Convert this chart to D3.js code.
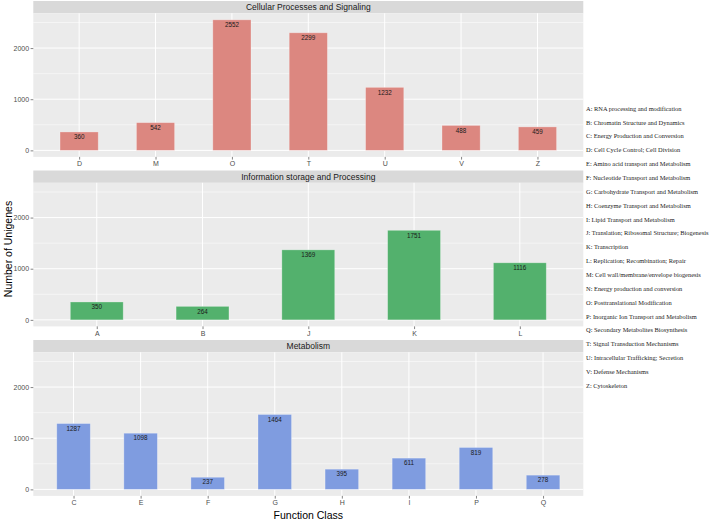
<!DOCTYPE html>
<html>
<head>
<meta charset="utf-8">
<script src="https://cdn.jsdelivr.net/npm/d3@7"></script>
<style>
  html, body { margin: 0; padding: 0; background: #fff; }
  svg { display: block; }
</style>
</head>
<body>
<script>
// ---------- data ----------
const panelTitles = ["Cellular Processes and Signaling", "Information storage and Processing", "Metabolism"];
const cellularCats = ["D", "M", "O", "T", "U", "V", "Z"];
const cellularValues = [360, 542, 2552, 2299, 1232, 488, 459];
const infoCats = ["A", "B", "J", "K", "L"];
const infoValues = [350, 264, 1369, 1751, 1116];
const metabCats = ["C", "E", "F", "G", "H", "I", "P", "Q"];
const metabValues = [1287, 1098, 237, 1464, 395, 611, 819, 278];
const yTicks = [0, 1000, 2000];
const yMinorTicks = [500, 1500, 2500];
const legendLabels = [
  "A: RNA processing and modification",
  "B: Chromatin Structure and Dynamics",
  "C: Energy Production and Conversion",
  "D: Cell Cycle Control; Cell Division",
  "E: Amino acid transport and Metabolism",
  "F: Nucleotide Transport and Metabolism",
  "G: Carbohydrate Transport and Metabolism",
  "H: Coenzyme Transport and Metabolism",
  "I: Lipid Transport and Metabolism",
  "J: Translation; Ribosomal Structure; Biogenesis",
  "K: Transcription",
  "L: Replication; Recombination; Repair",
  "M: Cell wall/membrane/envelope biogenesis",
  "N: Energy production and conversion",
  "O: Posttranslational Modification",
  "P: Inorganic Ion Transport and Metabolism",
  "Q: Secondary Metabolites Biosynthesis",
  "T: Signal Transduction Mechanisms",
  "U: Intracellular Trafficking; Secretion",
  "V: Defense Mechanisms",
  "Z: Cytoskeleton"
];
const panelColors = ["#DC8780", "#53B16D", "#7F9CE0"];

const panels = [
  { title: panelTitles[0], cats: cellularCats, values: cellularValues, color: panelColors[0] },
  { title: panelTitles[1], cats: infoCats, values: infoValues, color: panelColors[1] },
  { title: panelTitles[2], cats: metabCats, values: metabValues, color: panelColors[2] }
];

// ---------- layout ----------
const W = 709, H = 520;
const left = 33.3, right = 583.3;
const stripH = 12.3, plotH = 143.6;
const panelStep = 169.5, firstTop = 1;
const sans = "'Liberation Sans', Arial, Helvetica, sans-serif";
const serif = "'Liberation Serif', 'Times New Roman', serif";

const svg = d3.select("body").append("svg")
  .attr("width", W).attr("height", H)
  .style("font-family", sans);

const maxV = d3.max(panels.flatMap(p => p.values));
const pad = maxV * 0.05;

panels.forEach((p, i) => {
  const top = firstTop + i * panelStep;
  const pTop = top + stripH, pBot = pTop + plotH;
  const g = svg.append("g");

  const y = d3.scaleLinear().domain([-pad, maxV + pad]).range([pBot, pTop]);
  const x = d3.scalePoint().domain(p.cats).range([left, right]).padding(0.6);
  const bw = x.step() * 0.5;

  // strip
  g.append("rect").attr("x", left).attr("y", top).attr("width", right - left).attr("height", stripH)
    .attr("fill", "#D9D9D9");
  g.append("text").attr("x", (left + right) / 2).attr("y", top + stripH / 2 + 3)
    .attr("text-anchor", "middle").attr("font-size", 8.5).attr("fill", "#1A1A1A").text(p.title);

  // panel background
  g.append("rect").attr("x", left).attr("y", pTop).attr("width", right - left).attr("height", plotH)
    .attr("fill", "#EBEBEB");

  // minor grid
  g.selectAll(".minor").data(yMinorTicks.filter(v => v <= maxV + pad)).enter().append("line")
    .attr("x1", left).attr("x2", right).attr("y1", d => y(d)).attr("y2", d => y(d))
    .attr("stroke", "#fff").attr("stroke-width", 0.5);
  // major grid
  g.selectAll(".majorY").data(yTicks).enter().append("line")
    .attr("x1", left).attr("x2", right).attr("y1", d => y(d)).attr("y2", d => y(d))
    .attr("stroke", "#fff").attr("stroke-width", 1);
  g.selectAll(".majorX").data(p.cats).enter().append("line")
    .attr("x1", d => x(d)).attr("x2", d => x(d)).attr("y1", pTop).attr("y2", pBot)
    .attr("stroke", "#fff").attr("stroke-width", 1);

  // bars
  g.selectAll(".bar").data(p.cats.map((c, k) => ({ c, v: p.values[k] }))).enter().append("rect")
    .attr("x", d => x(d.c) - bw / 2).attr("width", bw)
    .attr("y", d => y(d.v)).attr("height", d => y(0) - y(d.v))
    .attr("fill", p.color).attr("stroke", "rgba(255,255,255,0.35)").attr("stroke-width", 0.8);

  // bar labels
  g.selectAll(".lab").data(p.cats.map((c, k) => ({ c, v: p.values[k] }))).enter().append("text")
    .attr("x", d => x(d.c)).attr("y", d => y(d.v) + 7.2)
    .attr("text-anchor", "middle").attr("font-size", 6.3).attr("fill", "#1A1A1A")
    .text(d => d.v);

  // y axis
  const ya = g.append("g").attr("transform", `translate(${left},0)`)
    .style("color", "#4D4D4D")
    .call(d3.axisLeft(y).tickValues(yTicks).tickFormat(d3.format("d")).tickSize(2.7).tickPadding(1.5));
  ya.select(".domain").remove();
  ya.selectAll(".tick line").attr("stroke", "#333").attr("stroke-width", 0.6);
  ya.selectAll(".tick text").attr("font-size", 7).attr("fill", "#4D4D4D").attr("font-family", sans);

  // x axis
  const xa = g.append("g").attr("transform", `translate(0,${pBot})`)
    .style("color", "#4D4D4D")
    .call(d3.axisBottom(x).tickSize(2.7).tickPadding(1.5));
  xa.select(".domain").remove();
  xa.selectAll(".tick line").attr("stroke", "#333").attr("stroke-width", 0.6);
  xa.selectAll(".tick text").attr("font-size", 7).attr("fill", "#4D4D4D").attr("font-family", sans);
});

// axis titles
svg.append("text").attr("x", (left + right) / 2).attr("y", 518.5)
  .attr("text-anchor", "middle").attr("font-size", 10.5).attr("fill", "#000").text("Function Class");
svg.append("text").attr("transform", `translate(11.5,${249}) rotate(-90)`)
  .attr("text-anchor", "middle").attr("font-size", 10.5).attr("fill", "#000").text("Number of Unigenes");

// legend text
const leg = svg.append("g").selectAll("text").data(legendLabels).enter().append("text")
  .attr("x", 586).attr("y", (d, i) => 110.7 + i * 13.86)
  .attr("font-family", serif)
  .attr("font-size", 6.8).attr("fill", "#222").text(d => d);
// fit font size so first entry spans ~95.7px as in reference
const firstLen = leg.node().getComputedTextLength();
if (firstLen > 0) {
  let fs = 6.8 * 95.7 / firstLen;
  leg.attr("font-size", fs);
  const maxLen = d3.max(leg.nodes(), n => n.getComputedTextLength());
  if (586 + maxLen > 708.5) fs = fs * (122.5 / maxLen);
  leg.attr("font-size", fs);
}
</script>
</body>
</html>
